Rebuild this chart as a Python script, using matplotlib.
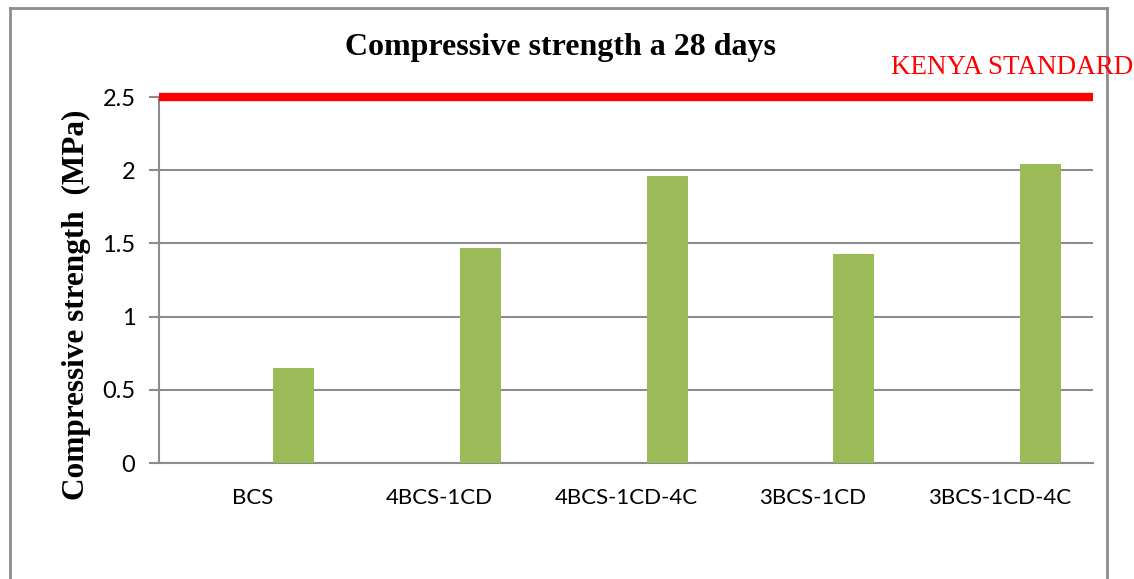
import numpy as np
import matplotlib.pyplot as plt
from matplotlib.lines import Line2D

mezclas = ['BCS', '4BCS-1CD', '4BCS-1CD-4C', '3BCS-1CD', '3BCS-1CD-4C']
resistencia = [0.65, 1.47, 1.96, 1.43, 2.04]
norma_kenya = 2.5

fig = plt.figure(figsize=(11.34, 5.79), dpi=100)
ax = fig.add_axes([0.1402, 0.2003, 0.8236, 0.6321])

# marco gris alrededor del grafico (el borde inferior queda fuera)
gris = '#8c8c8c'
arriba = 1 - 8/579
for xs, ys in [([10/1134, 10/1134], [-0.1, arriba]),
               ([10/1134, 1107/1134], [arriba, arriba]),
               ([1107/1134, 1107/1134], [-0.1, arriba])]:
    fig.add_artist(Line2D(xs, ys, color=gris, lw=2, transform=fig.transFigure))

x = np.arange(len(mezclas))
ax.bar(x + 0.22, resistencia, width=0.22, color='#9BBB59', zorder=3)

ax.axhline(norma_kenya, color='#FF0000', lw=6, zorder=4, clip_on=False,
           solid_capstyle='butt')

ax.set_xlim(-0.5, len(mezclas) - 0.5)
ax.set_ylim(0, 2.5)
ax.set_yticks([0, 0.5, 1, 1.5, 2, 2.5])
ax.set_yticklabels(['0', '0.5', '1', '1.5', '2', '2.5'])
ax.set_xticks(x)
ax.set_xticklabels(mezclas)
ax.grid(axis='y', color=gris, lw=1.5, zorder=0)
ax.tick_params(axis='y', length=7, width=1.5, color=gris, labelsize=17, pad=10)
ax.tick_params(axis='x', length=0, labelsize=16, pad=18)
for lab in ax.get_xticklabels() + ax.get_yticklabels():
    lab.set_family('Lato')

for lado in ['top', 'right']:
    ax.spines[lado].set_visible(False)
for lado in ['left', 'bottom']:
    ax.spines[lado].set_color(gris)
    ax.spines[lado].set_linewidth(1.5)

fig.text(0.494, 1 - 47/579, 'Compressive strength a 28 days', ha='center', va='center',
         family='Liberation Serif', fontweight='bold', fontsize=23)
fig.text(76/1134, 1 - 305/579, 'Compressive strength  (MPa)', rotation=90,
         ha='center', va='center', family='Liberation Serif',
         fontweight='bold', fontsize=22.5)
fig.text(891/1134, 1 - 67/579, 'KENYA STANDARD', ha='left', va='center',
         family='Liberation Serif', color='#FF0000', fontsize=19.5)

fig.savefig('out.png', dpi=100)
